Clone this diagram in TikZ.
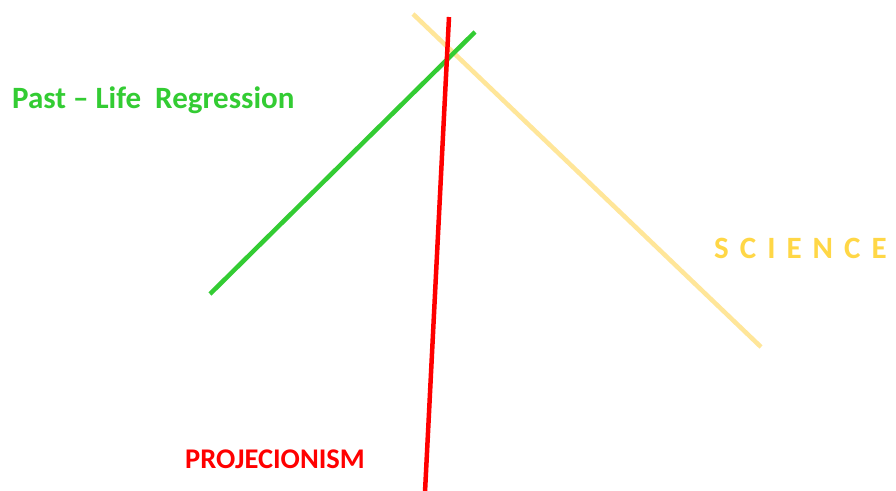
\documentclass[tikz,border=0pt]{standalone}
\usepackage{fontspec}
\setmainfont{Carlito}
\definecolor{lgreen}{RGB}{51,204,51}
\definecolor{lyellow}{RGB}{255,230,153}
\definecolor{syellow}{RGB}{255,215,70}
\definecolor{pred}{RGB}{255,0,0}
\newcommand{\sg}{\hspace{11pt}}
\begin{document}
\begin{tikzpicture}[x=1pt,y=-1pt,
  ln/.style={line width=4.5pt},
  lbl/.style={font=\bfseries\fontsize{31}{33}\selectfont, inner sep=0pt, anchor=base west}]
\useasboundingbox[fill=white] (0,0) rectangle (896,490);
\coordinate (y1) at (413,14);
\coordinate (y2) at (761,347);
\coordinate (g1) at (210,294);
\coordinate (g2) at (475,32);
\coordinate (r1) at (449,17);
\coordinate (r2) at (425,492);
\draw[ln, lyellow] (y1) -- (y2);
\draw[ln, lgreen] (g1) -- (g2);
\draw[ln, pred] (r1) -- (r2);
\node[lbl, text=lgreen] (past) at (12,108) {Past – Life\ \ Regression};
\node[lbl, text=syellow] (sci) at (714,258) {S\sg C\sg I\sg E\sg N\sg C\sg E};
\node[lbl, text=pred, font=\bfseries\fontsize{28.5}{31}\selectfont] (proj) at (185,468) {PROJECIONISM};
\end{tikzpicture}
\end{document}
